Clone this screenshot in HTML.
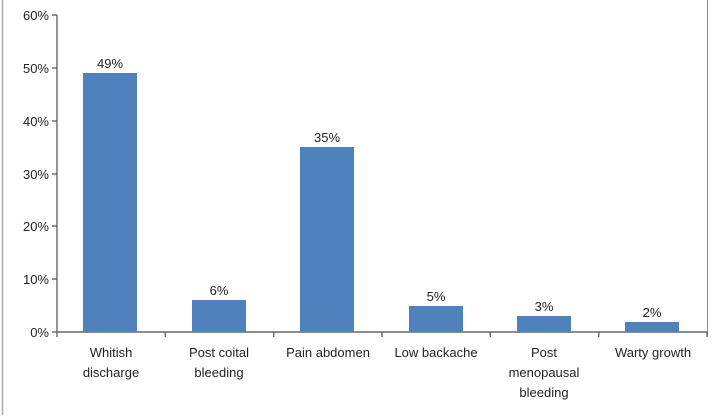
<!DOCTYPE html>
<html><head><style>body{margin:0;background:#fff}</style></head><body>
<svg width="712" height="415" xmlns="http://www.w3.org/2000/svg" font-family="Liberation Sans, sans-serif" font-size="13" fill="#222">
<rect x="0" y="0" width="712" height="415" fill="#fff"/>
<line x1="2.5" y1="0" x2="2.5" y2="415" stroke="#aaa" stroke-width="1.5"/>
<line x1="707.5" y1="0" x2="707.5" y2="335" stroke="#888" stroke-width="1"/>
<g stroke="#666" stroke-width="1.4">
<line x1="57" y1="15" x2="57" y2="332"/>
<line x1="57" y1="332" x2="707" y2="332"/>
<line x1="52" y1="15" x2="57" y2="15"/><line x1="52" y1="68" x2="57" y2="68"/><line x1="52" y1="121" x2="57" y2="121"/><line x1="52" y1="174" x2="57" y2="174"/><line x1="52" y1="226" x2="57" y2="226"/><line x1="52" y1="279" x2="57" y2="279"/><line x1="52" y1="332" x2="57" y2="332"/>
<line x1="57" y1="332" x2="57" y2="337"/><line x1="165.3" y1="332" x2="165.3" y2="337"/><line x1="273.7" y1="332" x2="273.7" y2="337"/><line x1="382" y1="332" x2="382" y2="337"/><line x1="490.3" y1="332" x2="490.3" y2="337"/><line x1="598.7" y1="332" x2="598.7" y2="337"/><line x1="707" y1="332" x2="707" y2="337"/>
</g>
<g text-anchor="end">
<text x="49" y="20">60%</text><text x="49" y="73">50%</text><text x="49" y="126">40%</text><text x="49" y="179">30%</text><text x="49" y="231">20%</text><text x="49" y="284">10%</text><text x="49" y="337">0%</text>
</g>
<g fill="#4f81bd">
<rect x="83" y="73" width="54" height="259"/>
<rect x="192" y="300" width="54" height="32"/>
<rect x="300" y="147" width="54" height="185"/>
<rect x="409" y="306" width="54" height="26"/>
<rect x="517" y="316" width="54" height="16"/>
<rect x="625" y="322" width="54" height="10"/>
</g>
<g text-anchor="middle">
<text x="110" y="68">49%</text><text x="219" y="295">6%</text><text x="327" y="142">35%</text><text x="436" y="301">5%</text><text x="544" y="311">3%</text><text x="652" y="317">2%</text>
<text x="111" y="357">Whitish</text><text x="111" y="377">discharge</text>
<text x="219" y="357">Post coital</text><text x="219" y="377">bleeding</text>
<text x="328" y="357">Pain abdomen</text>
<text x="436" y="357">Low backache</text>
<text x="544" y="357">Post</text><text x="544" y="377">menopausal</text><text x="544" y="397">bleeding</text>
<text x="653" y="357">Warty growth</text>
</g>
</svg>
</body></html>
